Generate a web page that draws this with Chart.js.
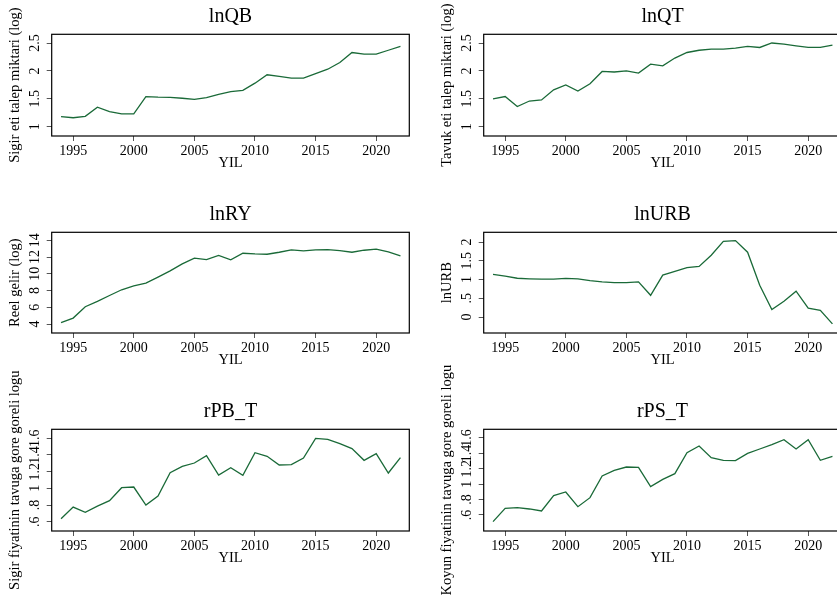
<!DOCTYPE html>
<html lang="en">
<head>
  <meta charset="UTF-8">
  <title>Degiskenlerin zaman icindeki seyri</title>
  <script src="https://cdn.jsdelivr.net/npm/chart.js"></script>
  <style>
    html, body { margin: 0; padding: 0; background: #fff; overflow: hidden; }
    body { position: relative; width: 837px; height: 595px; }
    canvas { position: absolute; }
  </style>
</head>
<body>
  <canvas id="c1" width="420" height="176" style="left:0;top:0"></canvas>
  <canvas id="c2" width="460" height="176" style="left:432px;top:0"></canvas>
  <canvas id="c3" width="420" height="175" style="left:0;top:198px"></canvas>
  <canvas id="c4" width="460" height="175" style="left:432px;top:198px"></canvas>
  <canvas id="c5" width="420" height="240" style="left:0;top:355px"></canvas>
  <canvas id="c6" width="460" height="240" style="left:432px;top:355px"></canvas>

  <script>
    // data
    const years = [1994, 1995, 1996, 1997, 1998, 1999, 2000, 2001, 2002, 2003, 2004, 2005, 2006, 2007,
                   2008, 2009, 2010, 2011, 2012, 2013, 2014, 2015, 2016, 2017, 2018, 2019, 2020, 2021, 2022];

    const lnQB = [1.18, 1.16, 1.185, 1.35, 1.27, 1.23, 1.23, 1.54, 1.53, 1.525, 1.51, 1.49, 1.52, 1.58,
                  1.63, 1.65, 1.78, 1.93, 1.90, 1.87, 1.87, 1.95, 2.03, 2.15, 2.33, 2.30, 2.30, 2.37, 2.44];
    const lnQT = [1.50, 1.54, 1.36, 1.46, 1.48, 1.66, 1.75, 1.64, 1.77, 1.99, 1.98, 2.00, 1.96, 2.12,
                  2.09, 2.23, 2.33, 2.37, 2.39, 2.39, 2.41, 2.44, 2.42, 2.50, 2.48, 2.45, 2.42, 2.42, 2.46];
    const lnRY = [4.16, 4.71, 6.06, 6.70, 7.41, 8.09, 8.56, 8.88, 9.60, 10.35, 11.18, 11.86, 11.70, 12.20,
                  11.66, 12.45, 12.37, 12.33, 12.57, 12.85, 12.73, 12.85, 12.89, 12.77, 12.57, 12.81, 12.93, 12.61, 12.14];
    const lnURB = [1.14, 1.09, 1.035, 1.02, 1.01, 1.01, 1.03, 1.02, 0.97, 0.94, 0.92, 0.92, 0.94, 0.58,
                   1.12, 1.22, 1.32, 1.35, 1.65, 2.02, 2.04, 1.73, 0.85, 0.20, 0.42, 0.69, 0.24, 0.18, -0.18];
    const rPB_T = [0.636, 0.776, 0.712, 0.788, 0.852, 1.008, 1.016, 0.80, 0.908, 1.188, 1.264, 1.304, 1.392, 1.16,
                   1.248, 1.156, 1.428, 1.384, 1.28, 1.284, 1.364, 1.60, 1.588, 1.536, 1.476, 1.336, 1.416, 1.184, 1.368];
    const rPS_T = [0.513, 0.687, 0.695, 0.678, 0.652, 0.851, 0.899, 0.708, 0.825, 1.106, 1.18, 1.223, 1.219, 0.968,
                   1.063, 1.137, 1.41, 1.496, 1.345, 1.31, 1.306, 1.40, 1.457, 1.513, 1.578, 1.457, 1.578, 1.31, 1.362];

    // tick labels
    const xTicks = [1995, 2000, 2005, 2010, 2015, 2020];
    const qTicks = [1, 1.5, 2, 2.5];
    const ryTicks = [4, 6, 8, 10, 12, 14];
    const urbTicks = [0, 0.5, 1, 1.5, 2];
    const relTicks = [0.6, 0.8, 1, 1.2, 1.4, 1.6];

    const FONT = "'Liberation Serif', 'Times New Roman', serif";
    const LINE = '#1a6a38';

    // full frame around the plot region
    const boxPlugin = {
      id: 'box',
      afterDraw(chart) {
        const a = chart.chartArea, ctx = chart.ctx;
        ctx.save();
        ctx.strokeStyle = '#000';
        ctx.lineWidth = 1.2;
        ctx.strokeRect(a.left, a.top, a.right - a.left, a.bottom - a.top);
        ctx.restore();
      }
    };

    // vertical (Stata style) y tick labels
    const yLabelPlugin = {
      id: 'ylabels',
      afterDraw(chart) {
        const s = chart.scales.y, ctx = chart.ctx;
        ctx.save();
        ctx.font = '14px ' + FONT;
        ctx.fillStyle = '#000';
        ctx.textAlign = 'center';
        ctx.textBaseline = 'alphabetic';
        s.ticks.forEach(t => {
          ctx.save();
          ctx.translate(chart.chartArea.left - 13, s.getPixelForValue(t.value));
          ctx.rotate(-Math.PI / 2);
          ctx.fillText(t.label, 0, 0);
          ctx.restore();
        });
        ctx.restore();
      }
    };

    function stataNum(v) {
      return String(+v.toFixed(2)).replace(/^0\./, '.').replace(/^-0\./, '-.');
    }

    function makePanel(id, title, yTitle, values, yTicks, yMin, yMax, padTop, padBottom, padRight) {
      new Chart(document.getElementById(id), {
        type: 'line',
        data: {
          datasets: [{
            data: years.map((yr, i) => ({ x: yr, y: values[i] })),
            borderColor: LINE,
            borderWidth: 1.3,
            pointRadius: 0,
            tension: 0,
            fill: false
          }]
        },
        options: {
          responsive: false,
          animation: false,
          layout: { padding: { left: 0, right: padRight, top: padTop, bottom: padBottom } },
          plugins: {
            legend: { display: false },
            tooltip: { enabled: false },
            title: {
              display: true,
              text: title,
              fullSize: false,
              color: '#000',
              font: { family: FONT, size: 20, weight: 'normal' },
              padding: { top: 4.5, bottom: 5.8 }
            }
          },
          scales: {
            x: {
              type: 'linear',
              min: 1993.23,
              max: 2022.73,
              afterBuildTicks: s => { s.ticks = xTicks.map(v => ({ value: v })); },
              afterFit: s => { s.height = 40; },
              border: { display: false },
              grid: { drawOnChartArea: false, drawTicks: true, tickLength: 5, color: '#555' },
              ticks: {
                color: '#000',
                padding: 2,
                maxRotation: 0,
                font: { family: FONT, size: 14 },
                callback: v => String(v)
              },
              title: {
                display: true,
                text: 'YIL',
                color: '#000',
                font: { family: FONT, size: 14.5 },
                padding: { top: 0, bottom: 4 }
              }
            },
            y: {
              min: yMin,
              max: yMax,
              afterBuildTicks: s => { s.ticks = yTicks.map(v => ({ value: v })); },
              afterFit: s => { s.width = 51.7; },
              border: { display: false },
              grid: { drawOnChartArea: false, drawTicks: true, tickLength: 5, color: '#555' },
              ticks: { display: false, callback: v => stataNum(v) },
              title: {
                display: true,
                text: yTitle,
                color: '#000',
                font: { family: FONT, size: 14.5 },
                padding: { top: 6.3, bottom: 0 }
              }
            }
          }
        },
        plugins: [boxPlugin, yLabelPlugin]
      });
    }

    makePanel('c1', 'lnQB', 'Sigir eti talep miktari (log)', lnQB, qTicks, 0.833, 2.656, 0, 0, 10.7);
    makePanel('c2', 'lnQT', 'Tavuk eti talep miktari (log)', lnQT, qTicks, 0.833, 2.656, 0, 0, 50.7);
    makePanel('c3', 'lnRY', 'Reel gelir (log)', lnRY, ryTicks, 2.93, 14.95, 0, 0, 10.7);
    makePanel('c4', 'lnURB', 'lnURB', lnURB, urbTicks, -0.425, 2.26, 0, 0, 50.7);
    makePanel('c5', 'rPB_T', 'Sigir fiyatinin tavuga gore goreli logu', rPB_T, relTicks, 0.489, 1.708, 40, 24, 10.7);
    makePanel('c6', 'rPS_T', 'Koyun fiyatinin tavuga gore goreli logu', rPS_T, relTicks, 0.392, 1.713, 40, 24, 50.7);
  </script>
</body>
</html>
